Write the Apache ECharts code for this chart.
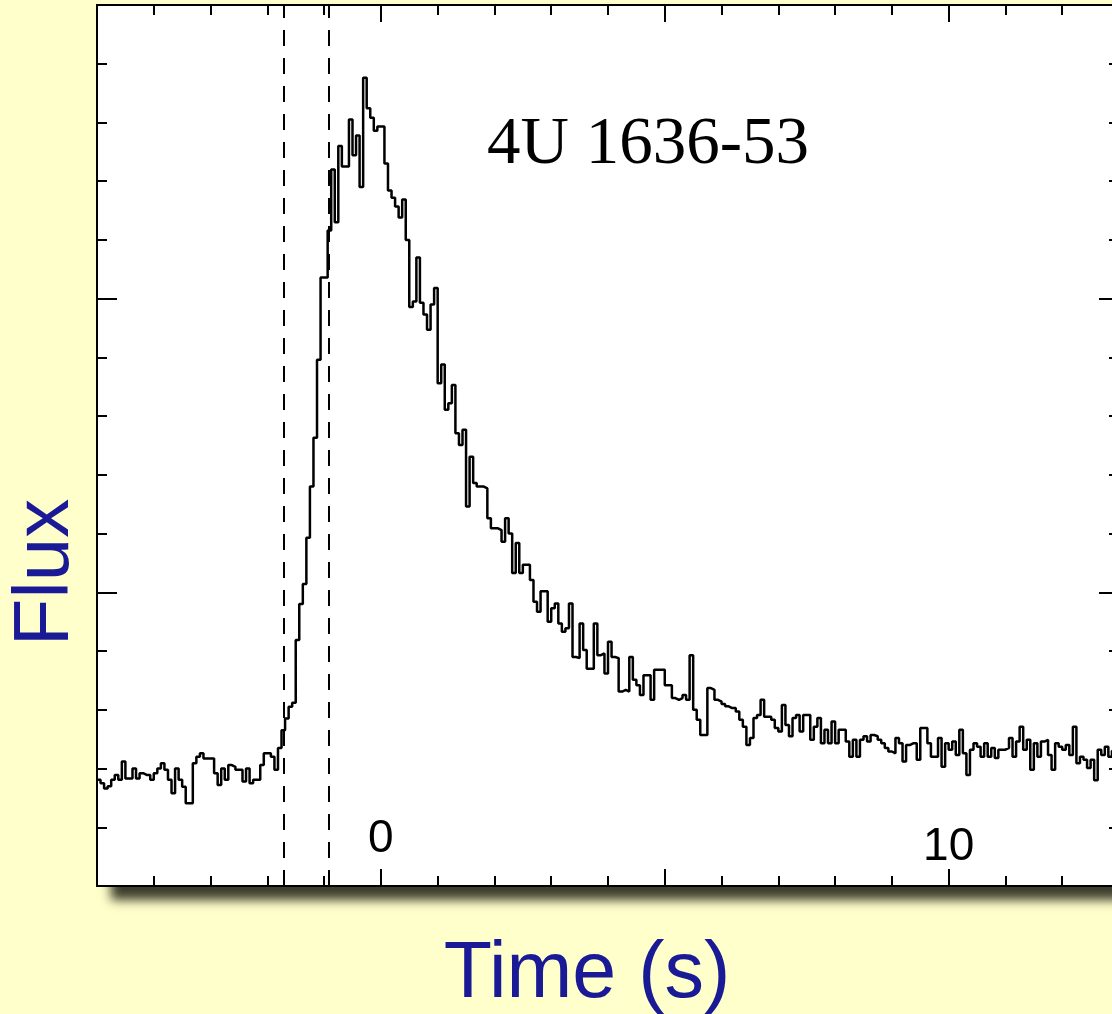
<!DOCTYPE html>
<html>
<head>
<meta charset="utf-8">
<title>4U 1636-53 burst light curve</title>
<style>
  html, body { margin: 0; padding: 0; background: #ffffcc; }
  #chart { width: 1112px; height: 1014px; }
</style>
<script src="https://cdn.jsdelivr.net/npm/echarts@6/dist/echarts.min.js"></script>
</head>
<body>
<div id="chart"></div>
<script>
// Light curve of an X-ray burst from 4U 1636-53, binned at 1/16 s.
const binWidth = 1 / 16;
const startTime = -5;

// Persistent emission before the burst (t = -5 ... -1.9 s)
const preBurst = [
  1.81, 1.75, 1.66, 1.70, 1.81, 1.89, 1.81, 2.12, 1.83, 1.83,
  2.00, 1.83, 1.92, 1.89, 1.89, 1.81, 1.92, 2.00, 2.09, 1.98,
  1.81, 1.58, 2.00, 1.81, 1.69, 1.41, 1.41, 2.09, 2.20, 2.26,
  2.17, 2.17, 2.17, 1.92, 1.72, 2.00, 1.81, 2.06, 2.03, 1.98,
  1.98, 1.78, 2.00, 1.75, 1.81, 1.81, 2.06, 2.26, 2.26, 2.20,
  1.98
];

// Burst rise
const rise = [
  2.35, 2.65, 2.85, 3.05, 3.12, 4.19, 4.80, 5.14, 5.93, 6.80,
  7.63, 8.96, 10.36, 10.36, 11.16, 12.20, 11.30, 12.60, 12.25, 12.25,
  13.05, 12.44, 12.78, 11.90
];

// Peak and early decay
const peak = [
  13.76, 13.24, 13.08, 12.86, 12.93, 12.93, 12.30, 11.84, 11.72, 11.57,
  11.38, 11.69, 11.00, 9.86, 9.95, 10.70
];

const earlyDecay = [
  9.93, 9.73, 9.47, 9.90, 10.18, 8.56, 8.88, 8.11, 8.22, 8.53,
  7.71, 7.51, 7.77, 6.46
];

const midDecay = [
  7.31, 6.86, 6.80, 6.80, 6.77, 6.26, 6.09, 6.09, 6.06, 5.86,
  6.26, 6.00, 5.33, 5.84, 5.33, 5.47, 5.47, 5.21, 4.84, 4.67,
  5.02, 5.02, 4.50, 4.73, 4.81, 4.47, 4.33, 4.39, 4.81, 3.90,
  3.88, 4.47, 4.02, 3.70, 3.70, 4.47, 3.93, 3.96, 3.62, 4.16,
  3.90, 3.88, 3.31, 3.34, 3.31, 3.90, 3.51, 3.42, 3.25, 3.59,
  3.59, 3.17, 3.68, 3.68, 3.68, 3.42, 3.42, 3.20, 3.17, 3.20,
  3.25, 3.17, 3.93
];

// Late tail back towards the persistent level
const tail = [
  3.00, 2.83, 2.57, 2.57, 3.37, 3.34, 3.17, 3.14, 3.10, 3.06,
  3.03, 3.03, 2.97, 2.83, 2.71, 2.40, 2.52, 2.86, 2.91, 3.17,
  2.88, 2.88, 2.83, 2.69, 2.63, 3.08, 2.74, 2.55, 2.86, 2.91,
  2.63, 2.91, 2.91, 2.49, 2.71, 2.86, 2.43, 2.66, 2.43, 2.80,
  2.43, 2.66, 2.66, 2.46, 2.20, 2.49, 2.20, 2.49, 2.55, 2.46,
  2.57, 2.55, 2.49, 2.43, 2.35, 2.29, 2.26, 2.52, 2.43, 2.12,
  2.40, 2.43, 2.43, 2.15, 2.69, 2.69, 2.43, 2.20, 2.20, 2.52,
  2.03, 2.43, 2.32, 2.46, 2.23, 2.66, 2.26, 1.89, 2.32, 2.43,
  2.37, 2.20, 2.43, 2.20, 2.35, 2.18, 2.32, 2.32, 2.35, 2.52,
  2.20, 2.46, 2.71, 2.32, 2.49, 1.98, 2.43, 2.20, 2.46, 2.49,
  2.23, 1.98, 2.43, 2.37, 2.32, 2.40, 2.23, 2.71, 2.09, 2.20,
  2.15, 2.01, 2.15, 1.80, 2.32, 2.23, 2.37, 2.20, 2.30
];

// Times of the two dashed reference lines (s)
const markerTimes = [-1.71, -0.92];

// Tick labels shown on the time axis
const timeTickLabels = { 0: '{lift|0}', 10: '{base|10}' };

const sourceName = '4U 1636-53';

const counts = [].concat(preBurst, rise, peak, earlyDecay, midDecay, tail);
const lightCurve = counts.map((v, i) => [startTime + i * binWidth, v]);
lightCurve.push([startTime + counts.length * binWidth, counts[counts.length - 1]]);

const ink = '#000';
const titleBlue = '#1a1a96';

function timeAxis(position, interval, tickLen, extra) {
  return Object.assign({
    type: 'value',
    position: position,
    min: -5,
    max: 13,
    interval: interval,
    axisLine: { show: true, onZero: false, lineStyle: { color: ink, width: 2 } },
    axisTick: { show: true, inside: true, length: tickLen, lineStyle: { color: ink, width: 2 } },
    axisLabel: { show: false },
    splitLine: { show: false }
  }, extra || {});
}

function fluxAxis(position, extra) {
  return Object.assign({
    type: 'value',
    position: position,
    min: 0,
    max: 15,
    interval: 5,
    axisLine: { show: true, onZero: false, lineStyle: { color: ink, width: 2 } },
    axisTick: { show: true, inside: true, length: 20, lineStyle: { color: ink, width: 2 } },
    minorTick: { show: true, splitNumber: 5, length: 10, lineStyle: { color: ink, width: 2 } },
    axisLabel: { show: false },
    splitLine: { show: false },
    minorSplitLine: { show: false }
  }, extra || {});
}

const chart = echarts.init(document.getElementById('chart'), null, { renderer: 'canvas' });

chart.setOption({
  backgroundColor: '#ffffcc',
  animation: false,
  title: {
    text: sourceName,
    left: 643,
    top: 107,
    textAlign: 'center',
    textStyle: { fontFamily: 'Liberation Serif', fontSize: 67, fontWeight: 'normal', color: ink }
  },
  grid: {
    left: 97,
    top: 5,
    width: 1022,
    height: 881,
    outerBoundsMode: 'none',
    containLabel: false,
    show: true,
    backgroundColor: '#ffffff',
    borderWidth: 0,
    shadowColor: 'rgba(52, 52, 36, 0.95)',
    shadowBlur: 10,
    shadowOffsetX: 14,
    shadowOffsetY: 14
  },
  xAxis: [
    timeAxis('bottom', 1, 10, {
      axisLabel: {
        show: true,
        inside: true,
        margin: 16,
        verticalAlign: 'bottom',
        fontFamily: 'Liberation Sans',
        fontSize: 46,
        color: ink,
        formatter: (v) => timeTickLabels[v] || '',
        rich: {
          lift: { fontFamily: 'Liberation Sans', fontSize: 46, color: ink, padding: [0, 0, 8, 0] },
          base: { fontFamily: 'Liberation Sans', fontSize: 46, color: ink }
        }
      },
      name: 'Time (s)',
      nameLocation: 'middle',
      nameGap: 50,
      nameTextStyle: { fontFamily: 'Liberation Sans', fontSize: 79, color: titleBlue, padding: [0, 42, 0, 0] }
    }),
    timeAxis('bottom', 5, 17),
    timeAxis('top', 1, 10),
    timeAxis('top', 5, 17)
  ],
  yAxis: [
    fluxAxis('left', {
      name: 'Flux',
      nameLocation: 'middle',
      nameRotate: 90,
      nameGap: 12,
      nameTextStyle: { fontFamily: 'Liberation Sans', fontSize: 78, color: titleBlue, padding: [0, 254, 0, 0] }
    }),
    fluxAxis('right')
  ],
  series: [{
    type: 'line',
    xAxisIndex: 0,
    yAxisIndex: 0,
    data: lightCurve,
    step: 'end',
    showSymbol: false,
    symbol: 'none',
    lineStyle: { color: ink, width: 2.5 },
    clip: true,
    markLine: {
      silent: true,
      symbol: ['none', 'none'],
      label: { show: false },
      lineStyle: { color: ink, width: 2, type: [16, 12] },
      data: markerTimes.map((t) => ({ xAxis: t }))
    }
  }]
});
</script>
</body>
</html>
